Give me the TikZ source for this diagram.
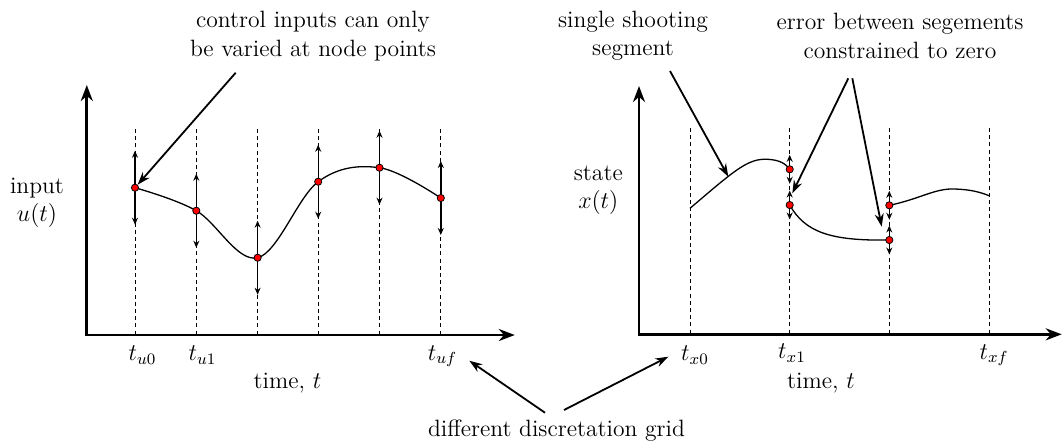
\documentclass[tikz,border=0pt]{standalone}
\usetikzlibrary{arrows.meta,calc}
\begin{document}
\begin{tikzpicture}[x=0.5pt,y=-0.5pt,
  axis/.style={line width=1.35pt,{Stealth[length=8pt,width=6pt]}-{Stealth[length=8pt,width=6pt]}},
  gridline/.style={line width=0.45pt,dash pattern=on 2pt off 1.6pt},
  curve/.style={line width=0.65pt},
  note/.style={line width=0.9pt,-{Stealth[length=6.5pt,width=4.5pt]}},
  vary/.style={line width=0.7pt,{Stealth[length=3.5pt,width=3pt]}-{Stealth[length=3.5pt,width=3pt]}},
  dot/.style={circle,draw=black,fill=red,inner sep=0pt,minimum size=3.6pt,line width=0.4pt},
  lbl/.style={font=\fontsize{11.8}{14.2}\selectfont,inner sep=0pt,align=center}]
\useasboundingbox (0,0) rectangle (1063,447);

% ---------------- left panel ----------------
\coordinate (ly) at (86.8,85);
\coordinate (lo) at (86.8,335);
\coordinate (lx) at (514.8,335);
\draw[axis] (ly) -- (lo) -- (lx);

\foreach \x/\n in {135/1,196.3/2,257.6/3,318.2/4,379.5/5,440.8/6}{
  \coordinate (ugt\n) at (\x,129);
  \coordinate (ugb\n) at (\x,335);
  \draw[gridline] (ugt\n) -- (ugb\n);
}

\coordinate (uc1) at (135,187.7);
\coordinate (uc2) at (196.3,210.7);
\coordinate (uc3) at (257.6,257.7);
\coordinate (uc4) at (318.2,181.7);
\coordinate (uc5) at (379.5,167.7);
\coordinate (uc6) at (440.8,198);

\draw[curve] plot[smooth,tension=0.6] coordinates {(uc1) (uc2) (uc3) (uc4) (uc5) (uc6)};

\foreach \n in {1,...,6}{
  \draw[vary] ($(uc\n)+(0,-37)$) -- ($(uc\n)+(0,37)$);
  \node[dot] (u\n) at (uc\n) {};
}

\node[lbl] (inp) at (37,203) {input\\$u(t)$};
\node[lbl] (tu0) at (142.5,355) {$t_{u0}$};
\node[lbl] (tu1) at (202.5,355) {$t_{u1}$};
\node[lbl] (tuf) at (442.5,356) {$t_{uf}$};
\node[lbl] (ltime) at (287.5,383) {time, $t$};

\node[lbl] (ctrl) at (313,36) {control inputs can only\\be varied at node points};
\coordinate (ctrlp) at (235.7,72.7);
\draw[note] (ctrlp) -- (u1);

% ---------------- right panel ----------------
\coordinate (ry) at (639,86);
\coordinate (ro) at (639,334.3);
\coordinate (rx) at (1061.7,334.3);
\draw[axis] (ry) -- (ro) -- (rx);

\foreach \x/\n in {690/1,789.7/2,889.3/3,989/4}{
  \coordinate (xgt\n) at (\x,128);
  \coordinate (xgb\n) at (\x,334.3);
  \draw[gridline] (xgt\n) -- (xgb\n);
}

\coordinate (s1s) at (690,208.3);
\coordinate (s1e) at (789.7,169.3);
\coordinate (s2s) at (789.7,205);
\coordinate (s2e) at (889.3,240);
\coordinate (s3s) at (889.3,205.3);
\coordinate (s3e) at (989,195.7);

\draw[curve] (s1s) .. controls (735,170) and (748,158) .. (768,159.3)
                   .. controls (780,160) and (786,164) .. (s1e);
\draw[curve] (s2s) .. controls (805,232) and (830,241) .. (s2e);
\draw[curve] (s3s) .. controls (920,199) and (935,188) .. (955,189)
                   .. controls (970,189.5) and (980,192) .. (s3e);

\foreach \c in {s1e,s2s,s2e,s3s}{
  \draw[vary] ($(\c)+(0,-14.5)$) -- ($(\c)+(0,14.5)$);
  \node[dot] (d\c) at (\c) {};
}

\node[lbl] (st) at (598.3,190) {state\\$x(t)$};
\node[lbl] (tx0) at (695,355) {$t_{x0}$};
\node[lbl] (tx1) at (792,353) {$t_{x1}$};
\node[lbl] (txf) at (994,355) {$t_{xf}$};
\node[lbl] (rtime) at (821,383) {time, $t$};

\node[lbl] (seg) at (633,36) {single shooting\\segment};
\coordinate (segp) at (670,71);
\coordinate (segt) at (728.3,176.7);
\draw[note] (segp) -- (segt);

\node[lbl] (err) at (900,36) {error between segements\\constrained to zero};
\coordinate (errp1) at (848.3,78.3);
\coordinate (errt1) at (792.3,193.3);
\coordinate (errp2) at (852.3,78.3);
\coordinate (errt2) at (881.7,226.7);
\draw[note] (errp1) -- (errt1);
\draw[note] (errp2) -- (errt2);

% ---------------- bottom ----------------
\node[lbl] (dg) at (556.5,431) {different discretation grid};
\coordinate (dgp1) at (545,412.7);
\coordinate (dgt1) at (469.3,360.7);
\coordinate (dgp2) at (564,410);
\coordinate (dgt2) at (668.3,356.7);
\draw[note] (dgp1) -- (dgt1);
\draw[note] (dgp2) -- (dgt2);
\end{tikzpicture}
\end{document}
